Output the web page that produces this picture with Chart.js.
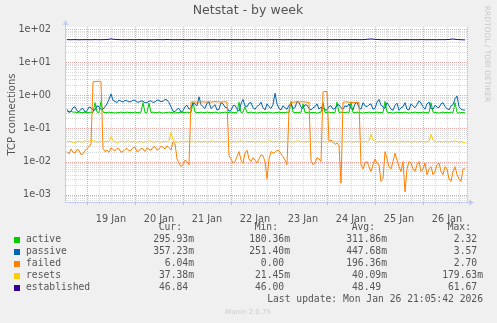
<!DOCTYPE html>
<html>
<head>
<meta charset="utf-8">
<script src="https://cdn.jsdelivr.net/npm/chart.js@4/dist/chart.umd.min.js"></script>
<style>
  html, body { margin: 0; padding: 0; background: #f0f0f0; }
  #c { display: block; }
</style>
</head>
<body>
<canvas id="c" width="497" height="323" style="width:497px;height:323px"></canvas>
<script>
// 数据：每小时一个点，从 18 Jan 14:00 开始（小时数相对于 19 Jan 00:00）
const sampleStart = -10
const sampleStep = 1

const dayLabels = ['19 Jan', '20 Jan', '21 Jan', '22 Jan', '23 Jan', '24 Jan', '25 Jan', '26 Jan']
const yTickValues = [0.001, 0.01, 0.1, 1, 10, 100]
const yTickLabels = ['1e-03', '1e-02', '1e-01', '1e+00', '1e+01', '1e+02']

const seriesNames = ['active', 'passive', 'failed', 'resets', 'established']
const seriesColors = ['#00cc00', '#0066b3', '#ff8000', '#ffcc00', '#330099']

const curVals = ['295.93m', '357.23m', '6.04m', '37.38m', '46.84']
const minVals = ['180.36m', '251.40m', '0.00', '21.45m', '46.00']
const avgVals = ['311.86m', '447.68m', '196.36m', '40.09m', '48.49']
const maxVals = ['2.32', '3.57', '2.70', '179.63m', '61.67']

const active = [
  0.33, 0.32, 0.33, 0.31, 0.31, 0.30, 0.31, 0.30, 0.30, 0.31, 0.30, 0.30, 0.31, 0.30, 0.60, 0.31, 0.30, 0.65, 0.31, 0.30,
  0.30, 0.31, 0.30, 0.30, 0.29, 0.30, 0.30, 0.31, 0.30, 0.30, 0.31, 0.30, 0.30, 0.30, 0.31, 0.30, 0.30, 0.31, 0.60, 0.30,
  0.30, 0.58, 0.30, 0.31, 0.30, 0.30, 0.31, 0.30, 0.29, 0.30, 0.30, 0.31, 0.30, 0.30, 0.29, 0.30, 0.30, 0.31, 0.30, 0.30,
  0.31, 0.30, 0.30, 0.62, 0.31, 0.30, 0.30, 0.31, 0.30, 0.30, 0.31, 0.30, 0.30, 0.30, 0.31, 0.30, 0.29, 0.30, 0.30, 0.31,
  0.30, 0.30, 0.31, 0.30, 0.30, 0.30, 0.62, 0.30, 0.31, 0.45, 0.30, 0.30, 0.31, 0.30, 0.30, 0.29, 0.30, 0.31, 0.30, 0.30,
  0.30, 0.31, 0.30, 0.29, 0.30, 0.30, 0.31, 0.30, 0.30, 0.30, 0.31, 0.30, 0.65, 0.31, 0.30, 0.30, 0.30, 0.31, 0.55, 0.30,
  0.30, 0.31, 0.30, 0.30, 0.30, 0.29, 0.30, 0.31, 0.60, 0.30, 0.30, 0.31, 0.30, 0.30, 0.30, 0.62, 0.30, 0.31, 0.30, 0.30,
  0.31, 0.30, 0.62, 0.30, 0.30, 0.31, 0.30, 0.30, 0.29, 0.30, 0.30, 0.31, 0.30, 0.30, 0.30, 0.31, 0.30, 0.30, 0.30, 0.65,
  0.31, 0.30, 0.30, 0.29, 0.30, 0.31, 0.30, 0.30, 0.30, 0.31, 0.30, 0.29, 0.30, 0.30, 0.31, 0.30, 0.30, 0.30, 0.31, 0.30,
  0.30, 0.30, 0.60, 0.31, 0.30, 0.30, 0.29, 0.30, 0.31, 0.30, 0.30, 0.30, 0.31, 0.30, 0.60, 0.30, 0.29, 0.30, 0.30, 0.296
]

const passive = [
  0.38, 0.30, 0.33, 0.42, 0.45, 0.34, 0.32, 0.38, 0.40, 0.31, 0.34, 0.44, 0.42, 0.35, 0.36, 0.48, 0.45, 0.37, 0.38, 0.45,
  0.55, 0.75, 1.10, 0.70, 0.65, 0.60, 0.72, 0.66, 0.62, 0.70, 0.68, 0.63, 0.64, 0.71, 0.70, 0.62, 0.62, 0.68, 0.66, 0.60,
  0.60, 0.66, 0.68, 0.61, 0.63, 0.72, 0.70, 0.64, 0.66, 0.75, 0.72, 0.60, 0.45, 0.33, 0.32, 0.38, 0.40, 0.31, 0.34, 0.45,
  0.50, 0.38, 0.42, 0.58, 0.55, 0.48, 0.90, 0.52, 0.45, 0.40, 0.58, 0.62, 0.40, 0.45, 0.52, 0.36, 0.38, 0.60, 0.55, 0.44,
  0.42, 0.33, 0.35, 0.48, 0.50, 0.38, 0.33, 0.55, 0.75, 0.48, 0.45, 0.58, 0.60, 0.42, 0.38, 0.46, 0.50, 0.62, 0.42, 0.36,
  0.55, 0.45, 0.40, 0.52, 1.15, 0.55, 0.40, 0.36, 0.48, 0.42, 0.38, 0.50, 0.55, 0.40, 0.42, 0.65, 0.60, 0.44, 0.40, 0.52,
  0.50, 0.40, 0.36, 0.42, 0.45, 0.55, 0.38, 0.44, 0.42, 0.36, 0.36, 0.46, 0.48, 0.38, 0.40, 0.50, 0.52, 0.42, 0.38, 0.48,
  0.45, 0.55, 0.40, 0.36, 0.55, 0.62, 0.42, 0.38, 0.60, 0.48, 0.45, 0.52, 0.55, 0.38, 0.40, 0.62, 0.75, 0.50, 0.45, 0.40,
  0.60, 0.48, 0.38, 0.35, 0.50, 0.58, 0.35, 0.42, 0.45, 0.60, 0.38, 0.36, 0.55, 0.48, 0.42, 0.52, 0.68, 0.58, 0.45, 0.38,
  0.55, 0.62, 0.40, 0.38, 0.50, 0.44, 0.42, 0.55, 0.60, 0.45, 0.40, 0.36, 0.48, 0.52, 0.78, 0.95, 0.45, 0.38, 0.36, 0.357
]

const failed = [
  0.020, 0.017, 0.024, 0.019, 0.018, 0.023, 0.022, 0.016, 0.017, 0.021, 0.025, 0.028, 0.035, 2.55, 2.60, 2.62, 2.65, 2.60, 0.025, 0.020,
  0.022, 0.019, 0.026, 0.023, 0.021, 0.025, 0.024, 0.019, 0.020, 0.023, 0.025, 0.021, 0.022, 0.026, 0.027, 0.020, 0.021, 0.025, 0.024, 0.020,
  0.026, 0.023, 0.022, 0.027, 0.028, 0.022, 0.024, 0.029, 0.027, 0.024, 0.030, 0.026, 0.022, 0.040, 0.035, 0.012, 0.009, 0.007, 0.008, 0.011,
  0.010, 0.008, 0.62, 0.63, 0.63, 0.61, 0.62, 0.63, 0.64, 0.62, 0.63, 0.64, 0.62, 0.63, 0.65, 0.63, 0.64, 0.62, 0.63, 0.64,
  0.62, 0.015, 0.012, 0.009, 0.010, 0.014, 0.020, 0.011, 0.009, 0.018, 0.022, 0.012, 0.010, 0.013, 0.011, 0.009, 0.012, 0.016, 0.015, 0.010,
  0.003, 0.012, 0.020, 0.018, 0.019, 0.022, 0.021, 0.017, 0.014, 0.011, 0.008, 0.35, 0.62, 0.61, 0.63, 0.62, 0.62, 0.63, 0.64, 0.62,
  0.62, 0.60, 0.011, 0.008, 0.009, 0.013, 0.012, 0.010, 1.25, 1.30, 1.28, 0.040, 0.045, 0.038, 0.033, 0.036, 0.030, 0.0022, 0.62, 0.63,
  0.63, 0.61, 0.62, 0.60, 0.61, 0.62, 0.60, 0.008, 0.006, 0.009, 0.010, 0.007, 0.005, 0.008, 0.012, 0.009, 0.008, 0.0025, 0.003, 0.020,
  0.012, 0.007, 0.006, 0.010, 0.018, 0.011, 0.007, 0.005, 0.010, 0.0012, 0.006, 0.010, 0.009, 0.006, 0.005, 0.008, 0.010, 0.005, 0.006, 0.009,
  0.004, 0.006, 0.007, 0.004, 0.005, 0.008, 0.009, 0.005, 0.004, 0.007, 0.006, 0.003, 0.0025, 0.005, 0.007, 0.004, 0.003, 0.0025, 0.006, 0.006
]

const resets = [
  0.039, 0.041, 0.040, 0.038, 0.038, 0.040, 0.041, 0.039, 0.039, 0.042, 0.040, 0.041, 0.045, 0.042, 0.041, 0.039, 0.040, 0.041, 0.039, 0.040,
  0.041, 0.040, 0.057, 0.042, 0.040, 0.038, 0.039, 0.041, 0.041, 0.039, 0.040, 0.042, 0.039, 0.040, 0.041, 0.038, 0.040, 0.041, 0.038, 0.040,
  0.040, 0.042, 0.041, 0.039, 0.039, 0.041, 0.040, 0.038, 0.041, 0.040, 0.040, 0.042, 0.075, 0.045, 0.041, 0.039, 0.039, 0.040, 0.040, 0.041,
  0.041, 0.039, 0.040, 0.042, 0.039, 0.040, 0.041, 0.039, 0.040, 0.041, 0.039, 0.040, 0.041, 0.042, 0.039, 0.040, 0.040, 0.041, 0.039, 0.040,
  0.041, 0.040, 0.039, 0.041, 0.040, 0.039, 0.040, 0.042, 0.040, 0.039, 0.041, 0.040, 0.040, 0.041, 0.039, 0.040, 0.041, 0.039, 0.040, 0.039,
  0.040, 0.042, 0.041, 0.039, 0.040, 0.041, 0.039, 0.040, 0.041, 0.040, 0.039, 0.041, 0.040, 0.039, 0.040, 0.042, 0.041, 0.039, 0.040, 0.039,
  0.040, 0.041, 0.039, 0.040, 0.041, 0.040, 0.039, 0.041, 0.040, 0.039, 0.040, 0.041, 0.040, 0.042, 0.040, 0.039, 0.041, 0.040, 0.042, 0.040,
  0.039, 0.041, 0.040, 0.039, 0.040, 0.041, 0.040, 0.039, 0.041, 0.040, 0.039, 0.041, 0.066, 0.044, 0.041, 0.039, 0.040, 0.041, 0.039, 0.040,
  0.041, 0.040, 0.039, 0.040, 0.041, 0.039, 0.040, 0.041, 0.040, 0.039, 0.041, 0.040, 0.039, 0.040, 0.041, 0.039, 0.040, 0.041, 0.040, 0.039,
  0.040, 0.041, 0.066, 0.044, 0.040, 0.039, 0.041, 0.040, 0.039, 0.041, 0.040, 0.039, 0.041, 0.040, 0.042, 0.040, 0.039, 0.041, 0.038, 0.037
]

const established = [
  47.8, 47.6, 47.5, 47.7, 47.9, 47.6, 47.4, 47.5, 47.6, 47.8, 47.7, 47.6, 47.5, 47.7, 48.0, 47.8, 47.6, 47.7, 47.8, 48.0,
  48.2, 49.0, 50.5, 49.2, 48.6, 48.0, 47.9, 47.7, 47.7, 47.6, 47.6, 47.8, 47.8, 47.6, 47.5, 47.7, 47.9, 47.7, 47.6, 47.5,
  47.8, 47.6, 47.4, 47.6, 47.7, 47.8, 47.9, 47.7, 47.6, 47.8, 48.3, 47.9, 47.7, 47.6, 47.5, 47.7, 47.6, 47.8, 47.8, 47.6,
  47.4, 47.6, 47.7, 47.8, 47.9, 47.7, 47.6, 47.5, 47.5, 47.7, 47.8, 47.6, 47.6, 47.8, 47.7, 47.5, 47.4, 47.6, 47.9, 47.7,
  47.6, 47.7, 47.8, 47.6, 47.5, 47.7, 47.7, 47.6, 47.6, 47.8, 47.9, 47.7, 47.5, 47.6, 47.8, 47.6, 47.6, 47.7, 47.7, 47.5,
  47.5, 47.7, 47.9, 47.8, 47.6, 47.7, 47.8, 47.6, 47.4, 47.6, 47.7, 47.8, 47.6, 47.5, 47.9, 47.7, 47.5, 47.6, 47.8, 47.7,
  47.6, 47.5, 47.7, 47.8, 47.5, 47.6, 47.8, 47.7, 47.6, 47.8, 47.9, 47.7, 47.5, 47.6, 47.7, 47.8, 47.6, 47.7, 47.8, 47.9,
  47.6, 47.7, 47.9, 47.8, 48.0, 47.8, 47.7, 47.6, 47.9, 48.2, 49.0, 49.5, 50.2, 49.3, 48.8, 48.3, 48.0, 47.8, 47.6, 47.6,
  47.7, 47.6, 47.5, 47.6, 47.8, 47.7, 47.6, 47.5, 47.7, 47.8, 47.9, 47.6, 47.6, 47.8, 47.5, 47.6, 47.7, 47.9, 47.8, 47.6,
  47.5, 47.7, 47.6, 47.8, 47.6, 47.5, 47.9, 47.7, 47.8, 47.6, 48.1, 48.3, 49.2, 50.0, 49.0, 48.0, 47.9, 47.6, 47.2, 46.84
]

const hours = passive.map((_, i) => sampleStart + i * sampleStep)
const allSeries = [active, passive, failed, resets, established]

// 网格和文字的颜色
const gridMinor = '#d9d9d9'
const gridMajor = '#eba6a6'
const axisColor = '#c4ccf4'
const textColor = '#555'
const sansFont = '"DejaVu Sans", sans-serif'
const monoFont = '"DejaVu Sans Mono", monospace'

function dottedLine(ctx, x1, y1, x2, y2, color) {
    ctx.save()
    ctx.strokeStyle = color
    ctx.lineWidth = 1
    ctx.setLineDash([1, 1])
    ctx.beginPath()
    ctx.moveTo(x1, y1)
    ctx.lineTo(x2, y2)
    ctx.stroke()
    ctx.restore()
}

const muninLook = {
    id: 'muninLook',
    beforeDraw(chart) {
        const { ctx, chartArea: a, scales } = chart
        ctx.save()
        ctx.fillStyle = '#f0f0f0'
        ctx.fillRect(0, 0, chart.width, chart.height)
        ctx.fillStyle = '#ffffff'
        ctx.fillRect(a.left, a.top, a.right - a.left, a.bottom - a.top)
        ctx.restore()

        // 横向网格：小刻度灰色，整数量级红色
        const y = scales.y
        for (let p = -4; p <= 2; p++) {
            for (let k = 2; k <= 9; k++) {
                const v = k * Math.pow(10, p)
                const py = Math.round(y.getPixelForValue(v)) + 0.5
                if (py > a.top && py < a.bottom) dottedLine(ctx, a.left, py, a.right, py, gridMinor)
            }
        }
        yTickValues.forEach(v => {
            const py = Math.round(y.getPixelForValue(v)) + 0.5
            dottedLine(ctx, a.left, py, a.right, py, gridMajor)
        })

        // 纵向网格：每 6 小时灰色，每天红色
        const x = scales.x
        for (let h = -6; h <= 186; h += 6) {
            const px = Math.round(x.getPixelForValue(h)) + 0.5
            const col = h % 24 === 0 ? gridMajor : gridMinor
            dottedLine(ctx, px, a.top, px, a.bottom, col)
            ctx.save()
            ctx.strokeStyle = col
            ctx.beginPath()
            ctx.moveTo(px, a.bottom)
            ctx.lineTo(px, a.bottom + (h % 24 === 0 ? 3 : 2))
            ctx.stroke()
            ctx.restore()
        }
        dottedLine(ctx, a.right + 0.5, a.top, a.right + 0.5, a.bottom, gridMajor)
    },
    afterDraw(chart) {
        const { ctx, chartArea: a } = chart
        ctx.save()

        // 坐标轴和箭头
        ctx.strokeStyle = axisColor
        ctx.fillStyle = axisColor
        ctx.lineWidth = 1
        ctx.beginPath()
        ctx.moveTo(a.left - 0.5, a.bottom + 0.5)
        ctx.lineTo(a.right + 3, a.bottom + 0.5)
        ctx.moveTo(a.left - 0.5, a.bottom + 0.5)
        ctx.lineTo(a.left - 0.5, a.top - 3)
        ctx.stroke()
        ctx.beginPath()
        ctx.moveTo(a.right + 7, a.bottom + 0.5)
        ctx.lineTo(a.right + 2, a.bottom - 2.5)
        ctx.lineTo(a.right + 2, a.bottom + 3.5)
        ctx.fill()
        ctx.beginPath()
        ctx.moveTo(a.left - 0.5, a.top - 7)
        ctx.lineTo(a.left - 3.5, a.top - 2)
        ctx.lineTo(a.left + 2.5, a.top - 2)
        ctx.fill()

        // 标题
        ctx.fillStyle = textColor
        ctx.font = '12.5px ' + sansFont
        ctx.textAlign = 'center'
        ctx.textBaseline = 'middle'
        ctx.fillText('Netstat - by week', 248, 11)

        // 纵轴标题
        ctx.save()
        ctx.translate(12, (a.top + a.bottom) / 2)
        ctx.rotate(-Math.PI / 2)
        ctx.font = '10px ' + sansFont
        ctx.fillText('TCP connections', 0, 0)
        ctx.restore()

        // 右侧水印
        ctx.save()
        ctx.translate(487, 54)
        ctx.rotate(Math.PI / 2)
        ctx.fillStyle = '#c8c8c8'
        ctx.font = '7.5px ' + sansFont
        ctx.fillText('RRDTOOL / TOBI OETIKER', 0, 0)
        ctx.restore()

        // 图例表格
        ctx.font = '9.7px ' + monoFont
        ctx.textAlign = 'right'
        const cols = [194, 290, 387, 483]
        const heads = ['Cur:', 'Min:', 'Avg:', 'Max:']
        heads.forEach((h, i) => ctx.fillText(h, cols[i] - 12, 227.5))
        const pad = s => (s.endsWith('m') ? s : s + ' ')
        seriesNames.forEach((name, r) => {
            const ry = 239.5 + r * 12.1
            ctx.fillStyle = seriesColors[r]
            ctx.fillRect(14, Math.round(ry) - 3, 6, 6)
            ctx.fillStyle = textColor
            ctx.textAlign = 'left'
            ctx.fillText(name, 26, ry)
            ctx.textAlign = 'right'
            ;[curVals, minVals, avgVals, maxVals].forEach((arr, c) => {
                ctx.fillText(pad(arr[r]), cols[c], ry)
            })
        })
        ctx.fillText('Last update: Mon Jan 26 21:05:42 2026', 483, 299.5)

        ctx.textAlign = 'center'
        ctx.fillStyle = '#cccccc'
        ctx.font = '7px ' + sansFont
        ctx.fillText('Munin 2.0.75', 248, 312)
        ctx.restore()
    }
}

const ctx = document.getElementById('c').getContext('2d')
const chart = new Chart(ctx, {
    type: 'line',
    data: {
        datasets: allSeries.map((arr, i) => ({
            label: seriesNames[i],
            data: arr.map((v, j) => ({ x: hours[j], y: v })),
            borderColor: seriesColors[i],
            backgroundColor: seriesColors[i],
            borderWidth: 1,
            pointRadius: 0,
            tension: 0,
            fill: false,
            order: 5 - i
        }))
    },
    options: {
        responsive: false,
        animation: false,
        devicePixelRatio: 1,
        layout: { padding: { top: 27, right: 30, left: 0, bottom: 0 } },
        plugins: {
            legend: { display: false },
            tooltip: { enabled: false },
            title: { display: false }
        },
        scales: {
            x: {
                type: 'linear',
                min: -10.5,
                max: 190,
                grid: { display: false },
                border: { display: false },
                afterBuildTicks: s => {
                    const t = []
                    for (let h = -6; h <= 186; h += 6) t.push({ value: h })
                    s.ticks = t
                },
                afterFit: s => { s.height = 121 },
                ticks: {
                    autoSkip: false,
                    maxRotation: 0,
                    padding: 4,
                    color: textColor,
                    font: { family: sansFont, size: 9.7 },
                    callback: v => (v % 24 === 12 ? dayLabels[(v - 12) / 24] : '')
                }
            },
            y: {
                type: 'logarithmic',
                min: 0.000615,
                max: 115,
                grid: { display: false },
                border: { display: false },
                afterBuildTicks: s => {
                    s.ticks = yTickValues.map(v => ({ value: v }))
                },
                afterFit: s => { s.width = 66 },
                ticks: {
                    autoSkip: false,
                    padding: 7,
                    color: textColor,
                    font: { family: sansFont, size: 9.7 },
                    callback: v => yTickLabels[Math.round(Math.log10(v)) + 3]
                }
            }
        }
    },
    plugins: [muninLook]
})
</script>
</body>
</html>
